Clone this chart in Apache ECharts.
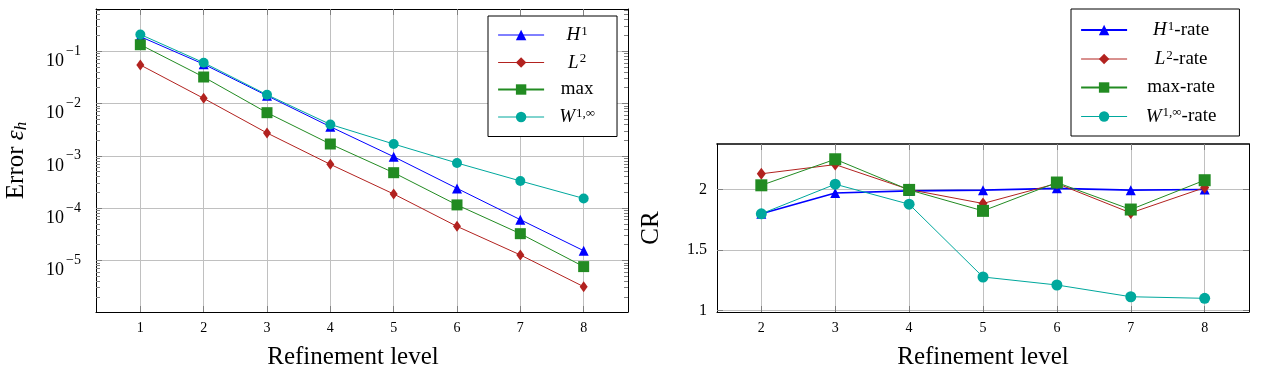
<!DOCTYPE html>
<html><head><meta charset="utf-8">
<script src="https://cdn.jsdelivr.net/npm/echarts@6/dist/echarts.min.js"></script>
<style>html,body{margin:0;padding:0;background:#fff}#c{width:1268px;height:376px}</style>
</head><body><div id="c"></div>
<script>
// ---- data ----
const levels = [1, 2, 3, 4, 5, 6, 7, 8];
const errH1  = [0.19, 0.0564, 0.0141, 0.0036, 9.6e-4, 2.38e-4, 6.0e-5, 1.53e-5];
const errL2  = [0.0545, 0.01253, 0.00273, 6.86e-4, 1.86e-4, 4.47e-5, 1.27e-5, 3.14e-6];
const errMax = [0.133, 0.0321, 0.00667, 0.00168, 4.75e-4, 1.15e-4, 3.24e-5, 7.6e-6];
const errW   = [0.209, 0.0603, 0.0147, 0.00398, 0.00168, 7.28e-4, 3.3e-4, 1.53e-4];

const rateLevels = [2, 3, 4, 5, 6, 7, 8];
const rateH1  = [1.80, 1.972, 1.989, 1.995, 2.01, 1.995, 2.0];
const rateL2  = [2.13, 2.206, 2.0, 1.885, 2.05, 1.807, 2.016];
const rateMax = [2.035, 2.25, 1.997, 1.824, 2.058, 1.835, 2.077];
const rateW   = [1.80, 2.044, 1.879, 1.278, 1.212, 1.115, 1.102];

const logMajorTicks = [1e-5, 1e-4, 1e-3, 1e-2, 1e-1];
const minorDecades = [1e-6, 1e-5, 1e-4, 1e-3, 1e-2, 1e-1];
const minorMultipliers = [2, 3, 4, 5, 6, 7, 8, 9];
const crTicks = [1, 1.5, 2];

const ERR_MIN = 1.03e-6, ERR_MAX = 0.641;
const CR_MIN = 0.989, CR_MAX = 2.376;

const logMinorTicks = [];
minorDecades.forEach(d => minorMultipliers.forEach(m => {
  const v = m * d; if (v > ERR_MIN && v < ERR_MAX) logMinorTicks.push(v);
}));

// ---- style ----
const FONT = 'Liberation Serif';
const C_BLUE = '#0000ff', C_RED = '#b2221f', C_GREEN = '#228b22', C_TEAL = '#00a89d';
const GRID = '#c0c0c0', TICK = '#808080';

const pair = (xs, ys) => xs.map((x, i) => [x, ys[i]]);

const richTxt = {
  it:  {fontFamily: FONT, fontStyle: 'italic', fontSize: 19, lineHeight: 20, align: 'center', color: '#000'},
  rm:  {fontFamily: FONT, fontSize: 19, lineHeight: 20, align: 'center', color: '#000'},
  sup: {fontFamily: FONT, fontSize: 13, lineHeight: 10, verticalAlign: 'top', align: 'center', color: '#000', padding: [0, 0, 0, 1]}
};
const legendNames = {
  'H1': '{it|H}{sup|1}', 'L2': '{it|L}{sup|2}', 'max': '{rm|max}', 'W1inf': '{it|W}{sup|1,∞}',
  'H1-rate': '{it|H}{sup|1}{rm|-rate}', 'L2-rate': '{it|L}{sup|2}{rm|-rate}',
  'max-rate': '{rm|max-rate}', 'W1inf-rate': '{it|W}{sup|1,∞}{rm|-rate}'
};

function xAxisDef(grid, min, max, ticks, pos, withLabel, name, namePad, topW) {
  return {
    gridIndex: grid, type: 'value', min: min, max: max, position: pos,
    axisLine: {show: true, onZero: false, lineStyle: {color: '#000', width: topW || 1}},
    axisTick: {show: true, inside: true, length: 6, customValues: ticks, lineStyle: {color: TICK}},
    axisLabel: {show: withLabel, customValues: ticks, fontFamily: FONT, fontSize: 14, color: '#000', margin: 9},
    splitLine: {show: withLabel, lineStyle: {color: GRID, width: 1}},
    name: withLabel ? name : '', nameLocation: 'middle', nameGap: 33,
    nameTextStyle: {fontFamily: FONT, fontSize: 25, color: '#000', padding: namePad || 0}
  };
}

const yLeft = [
  { gridIndex: 0, type: 'log', logBase: 10, min: ERR_MIN, max: ERR_MAX, position: 'left',
    axisLine: {show: true, onZero: false, lineStyle: {color: '#000', width: 1}},
    axisTick: {show: true, inside: true, length: 6, customValues: logMajorTicks, lineStyle: {color: TICK}},
    axisLabel: {show: true, customValues: logMajorTicks, margin: 15, padding: [20, 0, 0, 0],
      formatter: v => '{b|10}{s|−' + (-Math.round(Math.log10(v))) + '}',
      rich: {
        b: {fontFamily: FONT, fontSize: 18, lineHeight: 34, color: '#000'},
        s: {fontFamily: FONT, fontSize: 14, lineHeight: 12, verticalAlign: 'top', color: '#000', padding: [0, 0, 0, 2]}
      }},
    splitLine: {show: true, lineStyle: {color: GRID, width: 1}},
    name: '{rm|Error }{it|ε}{sub|h}', nameLocation: 'middle', nameGap: 66, nameRotate: 90,
    nameTextStyle: {rich: {
      rm: {fontFamily: FONT, fontSize: 25, lineHeight: 28, color: '#000'},
      it: {fontFamily: FONT, fontSize: 25, fontStyle: 'italic', lineHeight: 28, color: '#000'},
      sub: {fontFamily: FONT, fontSize: 17, fontStyle: 'italic', lineHeight: 12, verticalAlign: 'bottom', color: '#000'}
    }}
  },
  { gridIndex: 0, type: 'log', logBase: 10, min: ERR_MIN, max: ERR_MAX, position: 'right',
    axisLine: {show: true, onZero: false, lineStyle: {color: '#000', width: 1}},
    axisTick: {show: true, inside: true, length: 6, customValues: logMajorTicks, lineStyle: {color: TICK}},
    axisLabel: {show: false}, splitLine: {show: false} },
  { gridIndex: 0, type: 'log', logBase: 10, min: ERR_MIN, max: ERR_MAX, position: 'left',
    axisLine: {show: false},
    axisTick: {show: true, inside: true, length: 4, customValues: logMinorTicks, lineStyle: {color: TICK}},
    axisLabel: {show: false}, splitLine: {show: false} },
  { gridIndex: 0, type: 'log', logBase: 10, min: ERR_MIN, max: ERR_MAX, position: 'right',
    axisLine: {show: false},
    axisTick: {show: true, inside: true, length: 4, customValues: logMinorTicks, lineStyle: {color: TICK}},
    axisLabel: {show: false}, splitLine: {show: false} }
];

const yRight = [
  { gridIndex: 1, type: 'value', min: CR_MIN, max: CR_MAX, position: 'left',
    axisLine: {show: true, onZero: false, lineStyle: {color: '#000', width: 1}},
    axisTick: {show: true, inside: true, length: 6, customValues: crTicks, lineStyle: {color: TICK}},
    axisLabel: {show: true, customValues: crTicks, fontFamily: FONT, fontSize: 16, color: '#000', margin: 10,
      formatter: v => String(v)},
    splitLine: {show: true, lineStyle: {color: GRID, width: 1}},
    name: 'CR', nameLocation: 'middle', nameGap: 53, nameRotate: 90,
    nameTextStyle: {fontFamily: FONT, fontSize: 25, color: '#000'} },
  { gridIndex: 1, type: 'value', min: CR_MIN, max: CR_MAX, position: 'right',
    axisLine: {show: true, onZero: false, lineStyle: {color: '#000', width: 1}},
    axisTick: {show: true, inside: true, length: 6, customValues: crTicks, lineStyle: {color: TICK}},
    axisLabel: {show: false}, splitLine: {show: false} }
];

function lineSeries(name, color, symbol, size, data, xi, yi, lw) {
  return {
    name: name, type: 'line', xAxisIndex: xi, yAxisIndex: yi, data: data,
    symbol: symbol, symbolSize: size, showSymbol: true,
    lineStyle: {color: color, width: lw || 1}, itemStyle: {color: color},
    emphasis: {disabled: true}
  };
}

function legendDef(items, left, top, pad, textW, gap) {
  return {
    data: items, orient: 'vertical', left: left, top: top, padding: pad,
    itemWidth: 46, itemHeight: 13, itemGap: gap,
    borderColor: '#000', borderWidth: 1, backgroundColor: '#fff', borderRadius: 0,
    selectedMode: false,
    formatter: n => legendNames[n],
    textStyle: {width: textW, rich: richTxt}
  };
}

const option = {
  animation: false,
  backgroundColor: '#fff',
  grid: [
    {left: 96, top: 9, width: 532, height: 303},
    {left: 717, top: 144, width: 532, height: 168}
  ],
  xAxis: [
    xAxisDef(0, 0.3, 8.7, levels, 'bottom', true, 'Refinement level', [0, 18, 0, 0]),
    xAxisDef(0, 0.3, 8.7, levels, 'top', false),
    xAxisDef(1, 1.4, 8.6, rateLevels, 'bottom', true, 'Refinement level'),
    xAxisDef(1, 1.4, 8.6, rateLevels, 'top', false, '', 0, 1.6)
  ],
  yAxis: yLeft.concat(yRight),
  legend: [
    legendDef([
      {name: 'H1', lineStyle: {width: 1}}, {name: 'L2', lineStyle: {width: 1}},
      {name: 'max', lineStyle: {width: 2.2}}, {name: 'W1inf', lineStyle: {width: 1}}
    ], 488, 16, [9, 22, 10, 9], 56, 8),
    legendDef([
      {name: 'H1-rate', lineStyle: {width: 2.2}}, {name: 'L2-rate', lineStyle: {width: 1}},
      {name: 'max-rate', lineStyle: {width: 2.2}}, {name: 'W1inf-rate', lineStyle: {width: 1}}
    ], 1071, 9, [11, 23, 10, 9], 98, 9.5)
  ],
  series: [
    lineSeries('H1', C_BLUE, 'triangle', 10, pair(levels, errH1), 0, 0),
    lineSeries('L2', C_RED, 'diamond', [8, 11], pair(levels, errL2), 0, 0),
    lineSeries('max', C_GREEN, 'rect', 11, pair(levels, errMax), 0, 0),
    lineSeries('W1inf', C_TEAL, 'circle', 10, pair(levels, errW), 0, 0),
    lineSeries('H1-rate', C_BLUE, 'triangle', 10, pair(rateLevels, rateH1), 2, 4, 1.6),
    lineSeries('L2-rate', C_RED, 'diamond', [9, 12], pair(rateLevels, rateL2), 2, 4),
    lineSeries('max-rate', C_GREEN, 'rect', 12, pair(rateLevels, rateMax), 2, 4),
    lineSeries('W1inf-rate', C_TEAL, 'circle', 11, pair(rateLevels, rateW), 2, 4)
  ]
};

const chart = echarts.init(document.getElementById('c'), null, {renderer: 'canvas'});
chart.setOption(option);
</script>
</body></html>
